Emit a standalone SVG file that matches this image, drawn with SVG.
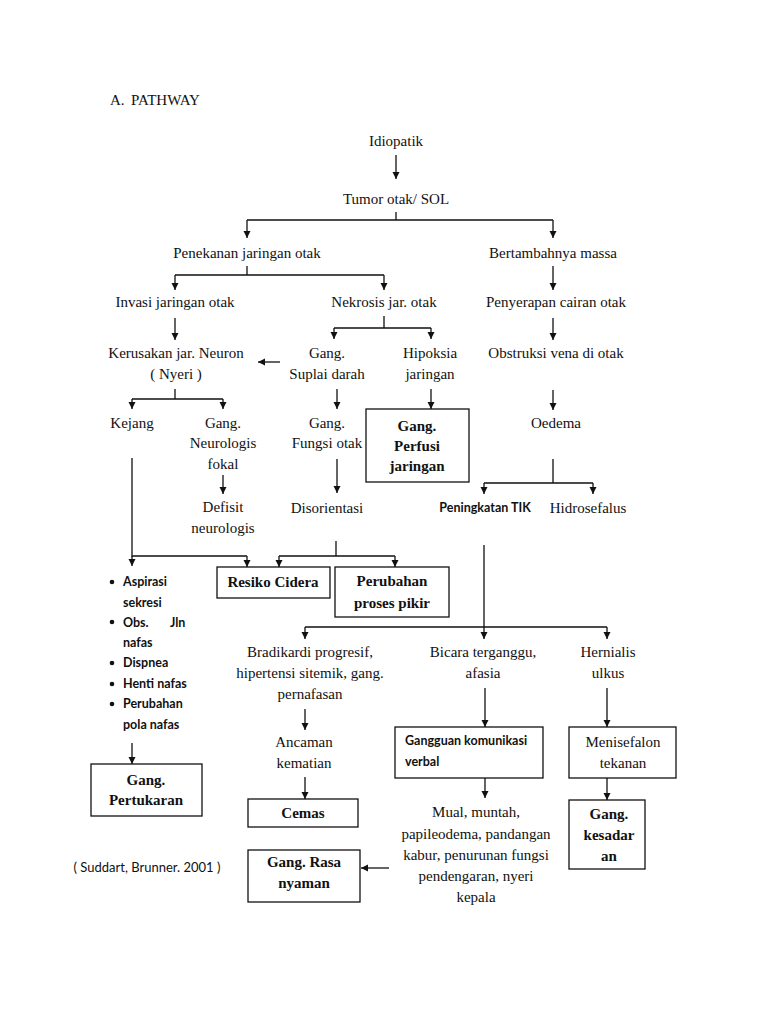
<svg xmlns="http://www.w3.org/2000/svg" width="768" height="1024" viewBox="0 0 768 1024">
<style>
.t{font-family:"Liberation Serif","Times New Roman",serif;font-size:15px;fill:#111;text-anchor:middle}
.b{font-weight:bold}
.s{font-family:Lato,"Liberation Sans",sans-serif;font-size:12.5px;font-weight:bold;fill:#111}
.box{fill:#fff;stroke:#111;stroke-width:1.3}
.c{fill:none;stroke:#111;stroke-width:1.3}
.a{marker-end:url(#ah)}
</style>
<defs>
<marker id="ah" viewBox="0 0 8 8" refX="8" refY="4" markerWidth="7" markerHeight="8" markerUnits="userSpaceOnUse" orient="auto">
<path d="M0,0 L8,4 L0,8 z" fill="#111"/>
</marker>
</defs>
<rect width="768" height="1024" fill="#fff"/>
<text class="t" x="110" y="105" style="text-anchor:start">A.</text>
<text class="t" x="131" y="105" style="text-anchor:start">PATHWAY</text>

<g id="connectors">
<path class="c a" d="M396,155 V179"/>
<path class="c" d="M396,212 V220 M247,220 H553"/>
<path class="c a" d="M247,220 V238"/>
<path class="c a" d="M553,220 V238"/>
<path class="c" d="M247,266 V275 M175,275 H384"/>
<path class="c a" d="M175,275 V290"/>
<path class="c a" d="M384,275 V290"/>
<path class="c a" d="M553,266 V290"/>
<path class="c a" d="M175,318 V340"/>
<path class="c" d="M384,316 V328 M334,328 H431"/>
<path class="c a" d="M334,328 V339"/>
<path class="c a" d="M431,328 V339"/>
<path class="c a" d="M553,318 V340"/>
<path class="c a" d="M280,362 H258"/>
<path class="c" d="M175,389 V399 M132,399 H223"/>
<path class="c a" d="M132,399 V409"/>
<path class="c a" d="M223,399 V409"/>
<path class="c a" d="M337,389 V409"/>
<path class="c a" d="M431,389 V409"/>
<path class="c a" d="M553,390 V410"/>
<path class="c a" d="M223,475 V494"/>
<path class="c a" d="M337,459 V493"/>
<path class="c" d="M553,459 V483 M484,483 H593"/>
<path class="c a" d="M484,483 V494"/>
<path class="c a" d="M593,483 V494"/>
<path class="c" d="M132,458 V556 H247"/>
<path class="c a" d="M132,556 V566"/>
<path class="c a" d="M247,556 V567"/>
<path class="c" d="M336,541 V556 M279,556 H395"/>
<path class="c a" d="M279,556 V567"/>
<path class="c a" d="M395,556 V567"/>
<path class="c" d="M484,545 V627 M305,627 H607"/>
<path class="c a" d="M305,627 V639"/>
<path class="c a" d="M484,627 V639"/>
<path class="c a" d="M607,627 V639"/>
<path class="c a" d="M132,743 V764"/>
<path class="c a" d="M305,709 V730"/>
<path class="c a" d="M305,777 V799"/>
<path class="c a" d="M485,688 V727"/>
<path class="c a" d="M485,778 V798"/>
<path class="c a" d="M607,688 V727"/>
<path class="c a" d="M607,778 V800"/>
<path class="c a" d="M389,868 H361"/>
</g>

<g id="idiopatik"><text class="t" x="396" y="146">Idiopatik</text></g>
<g id="tumor"><text class="t" x="396" y="204">Tumor otak/ SOL</text></g>
<g id="penekanan"><text class="t" x="247" y="258">Penekanan jaringan otak</text></g>
<g id="bertambahnya"><text class="t" x="553" y="258">Bertambahnya massa</text></g>
<g id="invasi"><text class="t" x="175" y="307">Invasi jaringan otak</text></g>
<g id="nekrosis"><text class="t" x="384" y="307">Nekrosis jar. otak</text></g>
<g id="penyerapan"><text class="t" x="556" y="307">Penyerapan cairan otak</text></g>
<g id="kerusakan"><text class="t" x="176" y="358">Kerusakan jar. Neuron</text><text class="t" x="176" y="379">( Nyeri )</text></g>
<g id="suplai"><text class="t" x="327" y="358">Gang.</text><text class="t" x="327" y="379">Suplai darah</text></g>
<g id="hipoksia"><text class="t" x="430" y="358">Hipoksia</text><text class="t" x="430" y="379">jaringan</text></g>
<g id="obstruksi"><text class="t" x="556" y="358">Obstruksi vena di otak</text></g>
<g id="kejang"><text class="t" x="132" y="428">Kejang</text></g>
<g id="neurologis"><text class="t" x="223" y="428">Gang.</text><text class="t" x="223" y="448">Neurologis</text><text class="t" x="223" y="469">fokal</text></g>
<g id="fungsi"><text class="t" x="327" y="428">Gang.</text><text class="t" x="327" y="448">Fungsi otak</text></g>
<g id="perfusi"><rect class="box" x="366" y="409" width="103" height="73"/><text class="t b" x="417" y="431">Gang.</text><text class="t b" x="417" y="451">Perfusi</text><text class="t b" x="417" y="471">jaringan</text></g>
<g id="oedema"><text class="t" x="556" y="428">Oedema</text></g>
<g id="defisit"><text class="t" x="223" y="512">Defisit</text><text class="t" x="223" y="533">neurologis</text></g>
<g id="disorientasi"><text class="t" x="327" y="513">Disorientasi</text></g>
<g id="tik"><text class="s" x="485" y="512" style="text-anchor:middle">Peningkatan TIK</text></g>
<g id="hidrosefalus"><text class="t" x="588" y="513">Hidrosefalus</text></g>
<g id="resiko"><rect class="box" x="217" y="567" width="113" height="31"/><text class="t b" x="273" y="587">Resiko Cidera</text></g>
<g id="perubahan"><rect class="box" x="335" y="567" width="114" height="50"/><text class="t b" x="392" y="586">Perubahan</text><text class="t b" x="392" y="608">proses pikir</text></g>
<g id="bullets">
<g fill="#111"><circle cx="112" cy="582" r="2.3"/><circle cx="112" cy="622" r="2.3"/><circle cx="112" cy="663" r="2.3"/><circle cx="112" cy="684" r="2.3"/><circle cx="112" cy="704" r="2.3"/></g>
<text class="s" x="123" y="586">Aspirasi</text>
<text class="s" x="123" y="607">sekresi</text>
<text class="s" x="123" y="627">Obs.</text><text class="s" x="170" y="627">Jln</text>
<text class="s" x="123" y="647">nafas</text>
<text class="s" x="123" y="667">Dispnea</text>
<text class="s" x="123" y="688">Henti nafas</text>
<text class="s" x="123" y="708">Perubahan</text>
<text class="s" x="123" y="729">pola nafas</text>
</g>
<g id="pertukaran"><rect class="box" x="91" y="764" width="111" height="52"/><text class="t b" x="146" y="785">Gang.</text><text class="t b" x="146" y="805">Pertukaran</text></g>
<g id="bradikardi"><text class="t" x="310" y="657">Bradikardi progresif,</text><text class="t" x="310" y="678">hipertensi sitemik, gang.</text><text class="t" x="310" y="699">pernafasan</text></g>
<g id="ancaman"><text class="t" x="304" y="747">Ancaman</text><text class="t" x="304" y="768">kematian</text></g>
<g id="cemas"><rect class="box" x="248" y="799" width="110" height="28"/><text class="t b" x="303" y="818">Cemas</text></g>
<g id="bicara"><text class="t" x="483" y="657">Bicara terganggu,</text><text class="t" x="483" y="678">afasia</text></g>
<g id="komunikasi"><rect class="box" x="395" y="727" width="148" height="51"/><text class="s" x="405" y="745">Gangguan komunikasi</text><text class="s" x="405" y="766">verbal</text></g>
<g id="mual"><text class="t" x="476" y="817">Mual, muntah,</text><text class="t" x="476" y="839">papileodema, pandangan</text><text class="t" x="476" y="860">kabur, penurunan fungsi</text><text class="t" x="476" y="881">pendengaran, nyeri</text><text class="t" x="476" y="902">kepala</text></g>
<g id="hernialis"><text class="t" x="608" y="657">Hernialis</text><text class="t" x="608" y="678">ulkus</text></g>
<g id="menisefalon"><rect class="box" x="569" y="727" width="107" height="51"/><text class="t" x="623" y="747">Menisefalon</text><text class="t" x="623" y="768">tekanan</text></g>
<g id="kesadaran"><rect class="box" x="569" y="800" width="76" height="69"/><text class="t b" x="609" y="819">Gang.</text><text class="t b" x="609" y="840">kesadar</text><text class="t b" x="609" y="861">an</text></g>
<g id="rasa"><rect class="box" x="248" y="850" width="112" height="52"/><text class="t b" x="304" y="867">Gang. Rasa</text><text class="t b" x="304" y="888">nyaman</text></g>
<g id="source"><text class="s" x="147" y="872" style="text-anchor:middle;font-weight:normal;font-size:13px">( Suddart, Brunner. 2001 )</text></g>
</svg>
